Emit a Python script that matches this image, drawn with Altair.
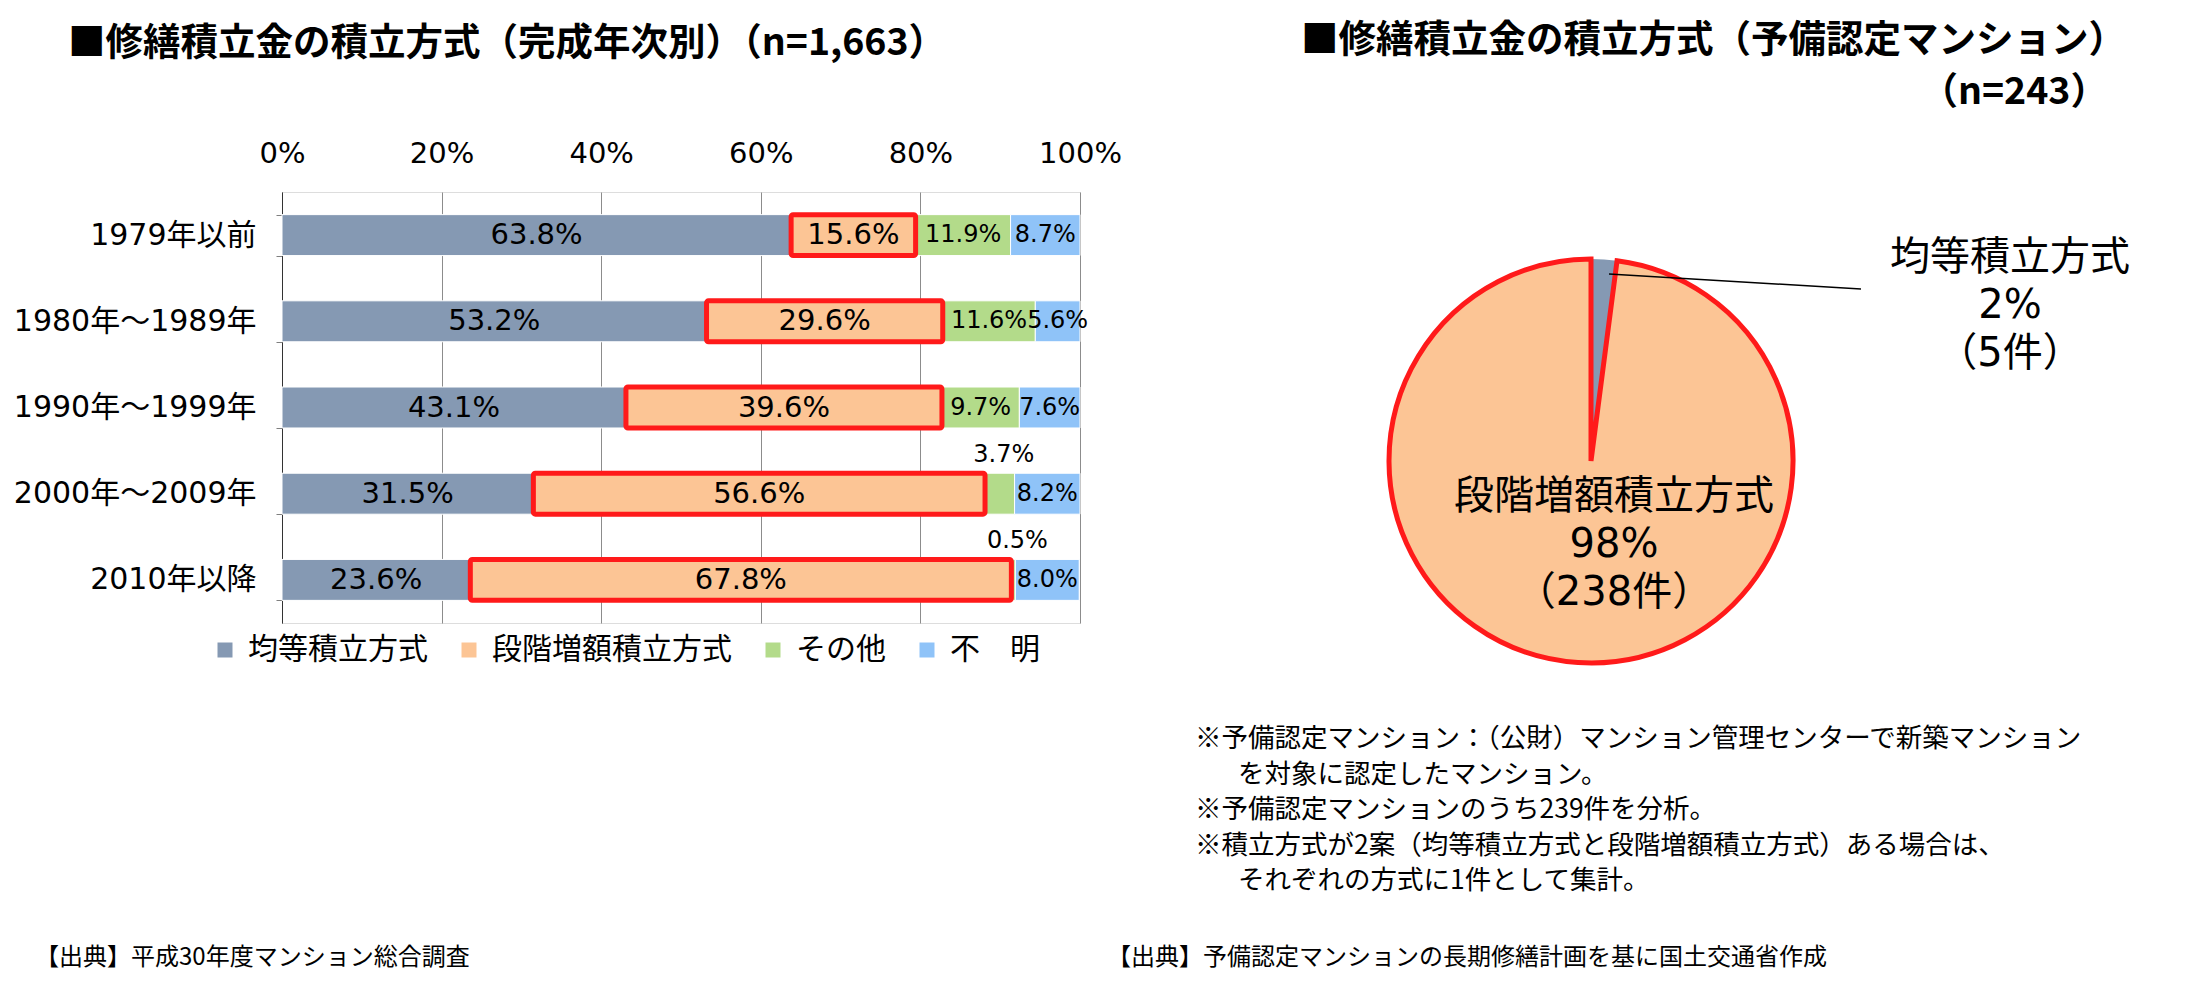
import altair as alt
import pandas as pd

FONT = "'DejaVu Sans', 'Noto Sans CJK JP', sans-serif"
JFONT = "'Noto Sans CJK JP', sans-serif"

categories = ["1979年以前", "1980年～1989年", "1990年～1999年", "2000年～2009年", "2010年以降"]
methods = ["均等積立方式", "段階増額積立方式", "その他", "不　明"]
kinto = [63.8, 53.2, 43.1, 31.5, 23.6]
dankai = [15.6, 29.6, 39.6, 56.6, 67.8]
sonota = [11.9, 11.6, 9.7, 3.7, 0.5]
fumei = [8.7, 5.6, 7.6, 8.2, 8.0]
x_ticks = [0, 20, 40, 60, 80, 100]

pie_methods = ["均等積立方式", "段階増額積立方式"]
pie_counts = [5, 238]
pie_pcts = [2, 98]

colors = ["#8599B3", "#FCC595", "#B3DB8A", "#8FC3F8"]
RED = "#FF1A1A"

title_left = "■修繕積立金の積立方式（完成年次別）（n=1,663）"
title_right = "■修繕積立金の積立方式（予備認定マンション）"
title_right_n = "（n=243）"
notes_main = [
    "※予備認定マンション：（公財）マンション管理センターで新築マンション",
    "※予備認定マンションのうち239件を分析。",
    "※積立方式が2案（均等積立方式と段階増額積立方式）ある場合は、",
]
notes_cont = [
    "を対象に認定したマンション。",
    "それぞれの方式に1件として集計。",
]
source_left = "【出典】平成30年度マンション総合調査"
source_right = "【出典】予備認定マンションの長期修繕計画を基に国土交通省作成"

# ---- bar table
rows = []
for i, cat in enumerate(categories):
    start = 0.0
    for j, vals in enumerate([kinto, dankai, sonota, fumei]):
        v = vals[i]
        rows.append(dict(cat=cat, method=methods[j], order=j, value=v,
                         start=start, end=start + v, mid=start + v / 2,
                         label=f"{v:.1f}%"))
        start += v
bar_df = pd.DataFrame(rows)

color_scale = alt.Scale(domain=methods, range=colors)
legend = alt.Legend(orient="none", legendX=-72, legendY=443, direction="horizontal",
                    columns=4, title=None, labelFontSize=30, labelFont=JFONT,
                    labelColor="black", symbolType="square", symbolSize=225,
                    symbolStrokeWidth=0, symbolOpacity=1, columnPadding=26,
                    labelOffset=8, labelLimit=400)
color_enc = alt.Color("method:N", scale=color_scale, legend=legend)

x_scale = alt.Scale(domain=[0, 100])
x_axis = alt.Axis(orient="top", values=x_ticks, labelExpr="datum.value + '%'",
                  title=None, domain=False, ticks=False, grid=True,
                  gridColor="#8C8C8C", gridWidth=1, labelFontSize=29,
                  labelFont=FONT, labelColor="black", labelPadding=24,
                  labelFlush=False)
y_axis = alt.Axis(title=None, ticks=True, tickBand="extent", tickSize=6,
                  tickColor="#7F7F7F", domain=True, domainColor="#333333",
                  labelFontSize=30, labelFont=FONT, labelColor="black",
                  labelPadding=20, labelLimit=400)
y_enc = alt.Y("cat:N", sort=categories,
              scale=alt.Scale(paddingInner=0.525, paddingOuter=0.2625), axis=y_axis)


def xq(field):
    return alt.X(field, type="quantitative", scale=x_scale, axis=x_axis)


base = alt.Chart(bar_df)

bars = base.mark_bar(stroke="white", strokeWidth=1).encode(
    x=xq("start"), x2="end:Q", y=y_enc, color=color_enc,
    order=alt.Order("order:Q"))

outline = base.transform_filter(alt.datum.order == 1).mark_bar(
    fillOpacity=0, stroke=RED, strokeWidth=5, cornerRadius=2).encode(
    x=xq("start"), x2="end:Q", y=y_enc)

lab_big = base.transform_filter(alt.datum.order < 2).mark_text(
    fontSize=29, font=FONT, color="black").encode(
    x=xq("mid"), y=y_enc, text="label:N")

lab_small = base.transform_filter(
    (alt.datum.order >= 2) & (alt.datum.value >= 5)).mark_text(
    fontSize=24, font=FONT, color="black").encode(
    x=xq("mid"), y=y_enc, text="label:N")

lab_out = base.transform_filter(
    (alt.datum.order >= 2) & (alt.datum.value < 5)).mark_text(
    fontSize=24, font=FONT, color="black", dy=-39, dx=4).encode(
    x=xq("mid"), y=y_enc, text="label:N")

# ---- pie
pie_df = pd.DataFrame({
    "method": pie_methods,
    "count": pie_counts,
    "pct": pie_pcts,
    "order": list(range(len(pie_methods))),
})
pie_df["txt"] = [f"{m}\n{p}%\n（{c}件）" for m, p, c in zip(pie_methods, pie_pcts, pie_counts)]

PCX, PCY = 1309, 269
pie = alt.Chart(pie_df).mark_arc(outerRadius=202, stroke=RED).encode(
    theta=alt.Theta("count:Q", stack=True),
    order=alt.Order("order:Q"),
    color=color_enc,
    strokeWidth=alt.condition(alt.datum.order == 1, alt.value(5), alt.value(0)),
    x=alt.value(PCX), y=alt.value(PCY))

leader = alt.Chart(pie_df).transform_filter(alt.datum.order == 0).mark_rule(
    color="black", strokeWidth=1.5).encode(
    x=alt.value(1327), y=alt.value(82), x2=alt.value(1579), y2=alt.value(97))

pie_lab0 = alt.Chart(pie_df).transform_filter(alt.datum.order == 0).mark_text(
    fontSize=40, font=FONT, color="black", lineBreak="\n", lineHeight=48,
    align="center", baseline="middle").encode(
    text="txt:N", x=alt.value(1728), y=alt.value(66))

pie_lab1 = alt.Chart(pie_df).transform_filter(alt.datum.order == 1).mark_text(
    fontSize=40, font=FONT, color="black", lineBreak="\n", lineHeight=48,
    align="center", baseline="middle").encode(
    text="txt:N", x=alt.value(1332), y=alt.value(305))


def txt(s, x, y, size, align="left", weight="normal", font=JFONT):
    return alt.Chart(pd.DataFrame({"t": [s]})).mark_text(
        align=align, baseline="middle", fontSize=size, fontWeight=weight,
        font=font, color="black").encode(
        text="t:N", x=alt.value(x), y=alt.value(y))


texts = [
    txt(title_left, -214, -148, 37.5, weight="bold"),
    txt(title_right, 1019, -151, 37.5, weight="bold"),
    txt(title_right_n, 1826, -99, 37.5, align="right", weight="bold"),
    txt(notes_main[0], 913, 547, 26.5),
    txt(notes_cont[0], 956, 583, 26.5),
    txt(notes_main[1], 913, 618, 26.5),
    txt(notes_main[2], 913, 654, 26.5),
    txt(notes_cont[1], 956, 689, 26.5),
    txt(source_left, -247, 766, 24),
    txt(source_right, 825, 766, 24),
]

chart = alt.layer(bars, outline, lab_big, lab_small, lab_out,
                  pie, leader, pie_lab0, pie_lab1, *texts).properties(
    width=798, height=431,
    autosize=alt.AutoSizeParams(type="none"),
    padding={"left": 274, "top": 184, "right": 1098, "bottom": 351},
).configure_view(strokeWidth=0).configure(font=FONT)

chart.save("out.html", embed_options={"renderer": "svg", "actions": False})
